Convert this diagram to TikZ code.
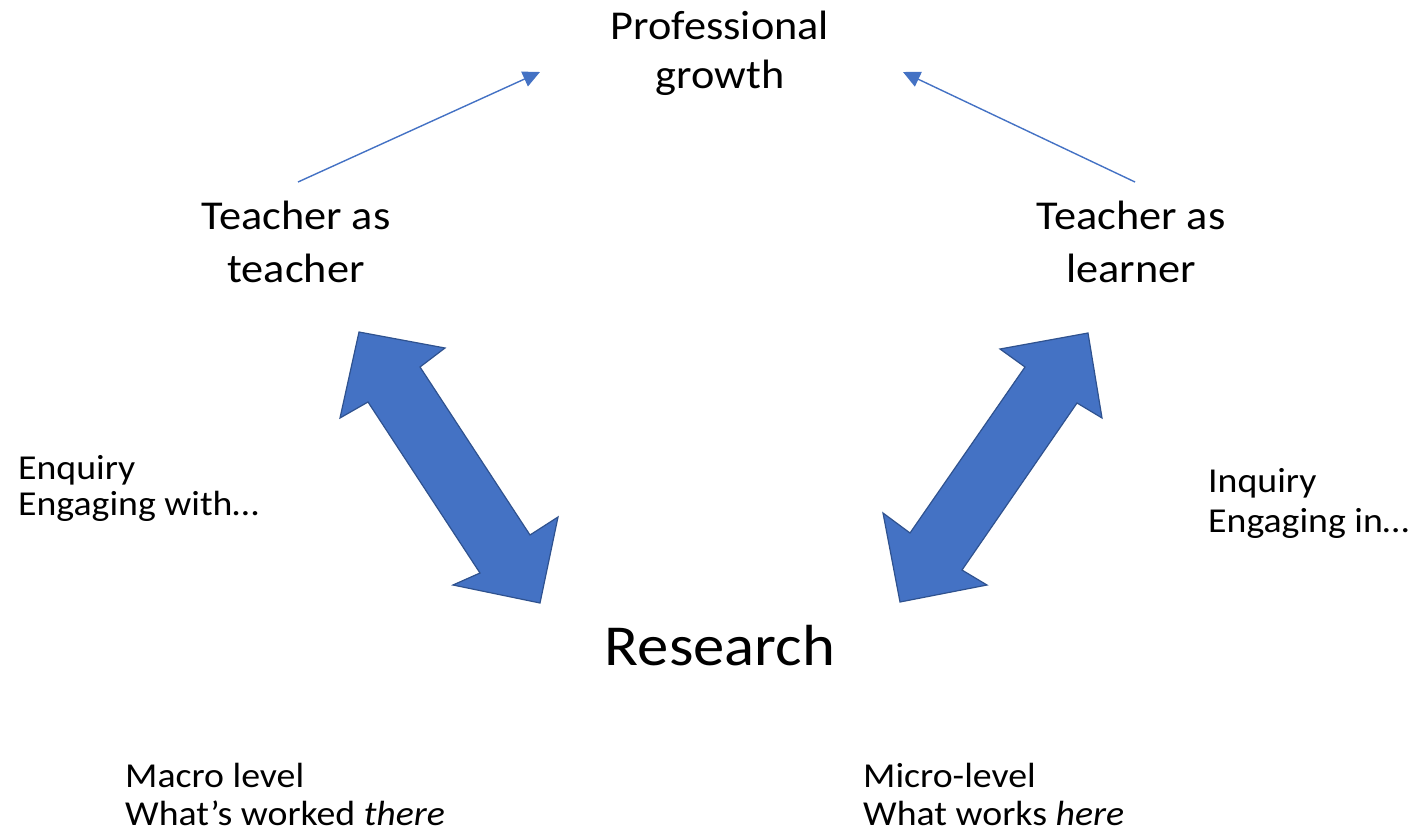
\documentclass[tikz,border=0pt]{standalone}
\usepackage{fontspec}
\setmainfont{Carlito}[FakeStretch=1.08]
\usetikzlibrary{arrows.meta}
\definecolor{arrowblue}{HTML}{4472C4}
\definecolor{arrowedge}{HTML}{2F528F}
\tikzset{
  lbl/.style={inner sep=0pt, text=black},
  midtxt/.style={lbl, align=center},
  smalltxt/.style={lbl, align=left},
  bigarrow/.style={fill=arrowblue, draw=arrowedge, line width=1.2pt, line join=miter},
  thinarrow/.style={draw=arrowblue, line width=1.4pt, -{Triangle[length=17pt,width=16pt]}},
}
\begin{document}
\begin{tikzpicture}[x=1pt,y=-1pt]
\useasboundingbox (0,0) rectangle (1421,836);
\node[midtxt, anchor=base, font=\fontsize{41}{49}\selectfont] (pg) at (720,88) {Professional\\growth};
\node[midtxt, anchor=base, font=\fontsize{41}{53}\selectfont] (tt) at (296,282) {Teacher as\\teacher};
\node[midtxt, anchor=base, font=\fontsize{41}{53}\selectfont] (tl) at (1131,282) {Teacher as\\learner};
\node[lbl, anchor=base, font=\fontsize{58}{70}\selectfont] (res) at (720,665) {Research};
\node[smalltxt, anchor=base west, font=\fontsize{35}{36}\selectfont] (enq) at (18,515) {Enquiry\\Engaging with…};
\node[smalltxt, anchor=base west, font=\fontsize{35}{40}\selectfont] (inq) at (1208,532) {Inquiry\\Engaging in…};
\node[smalltxt, anchor=base west, font=\fontsize{35}{38}\selectfont] (mac) at (125,825) {Macro level\\What’s worked \textit{there}};
\node[smalltxt, anchor=base west, font=\fontsize{35}{38}\selectfont] (mic) at (863,825) {Micro-level\\What works \textit{here}};
% thin arrows
\coordinate (ls) at (298,182);
\coordinate (le) at (540,72);
\coordinate (rs) at (1135,182);
\coordinate (re) at (903,72);
\draw[thinarrow] (ls) -- (le);
\draw[thinarrow] (rs) -- (re);
% big double arrows
\draw[bigarrow] (359,332) -- (445,348) -- (420,367) -- (530,535) -- (558,517) -- (540,603)
  -- (453,585) -- (480,573) -- (368,402) -- (340,418) -- cycle;
\draw[bigarrow] (1088,333) -- (1102,418) -- (1077,403) -- (962,570) -- (987,585) -- (900,602)
  -- (883,513) -- (910,533) -- (1025,367) -- (1000,349) -- cycle;
\end{tikzpicture}
\end{document}
